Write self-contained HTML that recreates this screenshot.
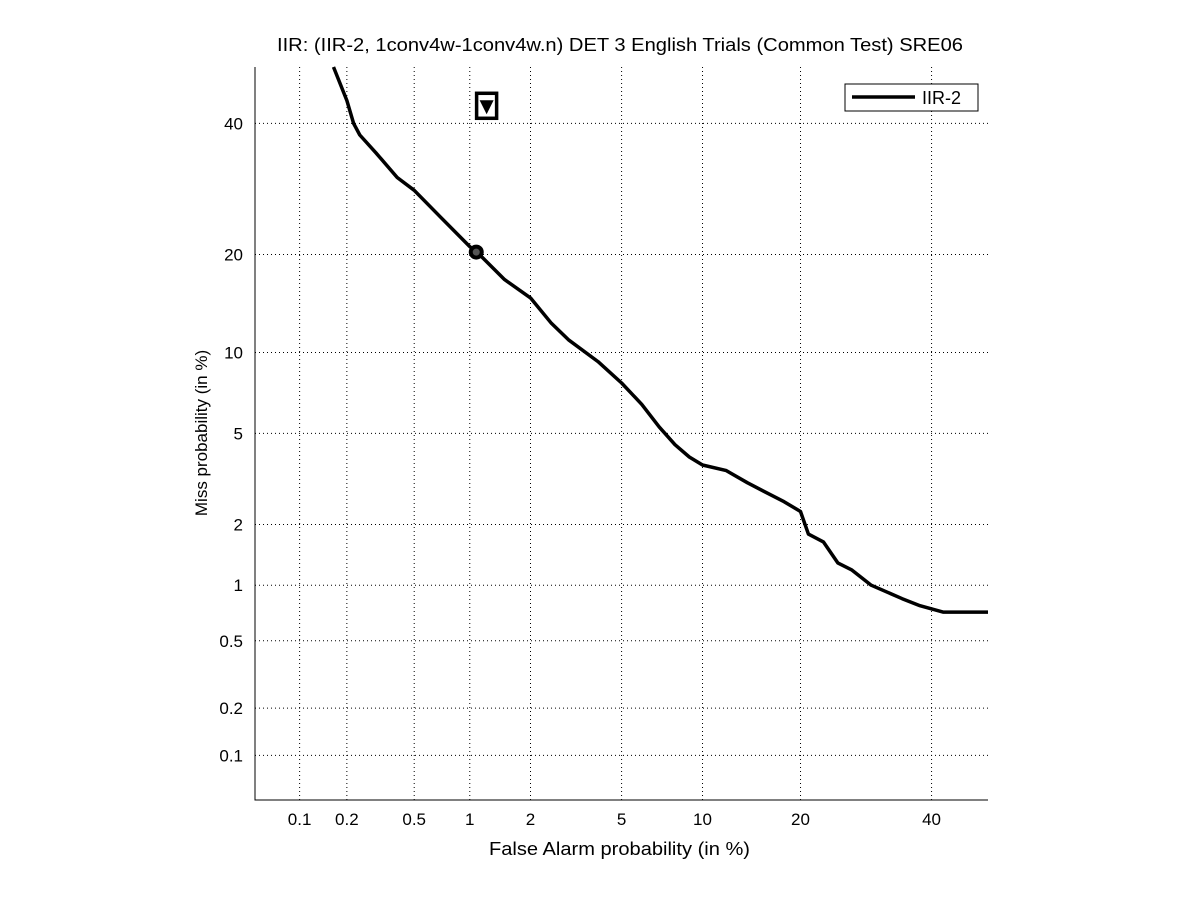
<!DOCTYPE html>
<html><head><meta charset="utf-8"><style>
body{margin:0;background:#fff;font-family:"Liberation Sans",sans-serif}
</style></head><body>
<svg id="c" width="1201" height="900" xmlns="http://www.w3.org/2000/svg"></svg>
<script>
const xTicks=[0.1,0.2,0.5,1,2,5,10,20,40];
const xTickLabels=["0.1","0.2","0.5","1","2","5","10","20","40"];
const yTicks=[0.1,0.2,0.5,1,2,5,10,20,40];
const yTickLabels=["0.1","0.2","0.5","1","2","5","10","20","40"];
const faValues=[0.165,0.2,0.22,0.24,0.3,0.4,0.5,0.7,1.0,1.1,1.5,2,2.5,3,4,5,6,7,8,9,10,12,14,16,18,20,21,23,25,27,30,35,38,42,50];
const missValues=[50,44,40,38,35,31,29,25,21,20.2,17,15,12.5,11,9.3,7.8,6.5,5.3,4.5,4.0,3.7,3.5,3.1,2.8,2.55,2.3,1.8,1.65,1.3,1.2,1.0,0.85,0.78,0.72,0.72];
const minDcfPoint=[1.08,20.3];
const actDcfPoint=[1.22,43];
const NS="http://www.w3.org/2000/svg";
const svg=document.getElementById('c');
function probit(p){
 const a=[-39.69683028665376,220.9460984245205,-275.9285104469687,138.357751867269,-30.66479806614716,2.506628277459239];
 const b=[-54.47609879822406,161.5858368580409,-155.6989798598866,66.80131188771972,-13.28068155288572];
 const c=[-0.007784894002430293,-0.3223964580411365,-2.400758277161838,-2.549732539343734,4.374664141464968,2.938163982698783];
 const d=[0.007784695709041462,0.3224671290700398,2.445134137142996,3.754408661907416];
 const pl=0.02425;let q,r;
 if(p<pl){q=Math.sqrt(-2*Math.log(p));return (((((c[0]*q+c[1])*q+c[2])*q+c[3])*q+c[4])*q+c[5])/((((d[0]*q+d[1])*q+d[2])*q+d[3])*q+1);}
 if(p>1-pl){q=Math.sqrt(-2*Math.log(1-p));return -(((((c[0]*q+c[1])*q+c[2])*q+c[3])*q+c[4])*q+c[5])/((((d[0]*q+d[1])*q+d[2])*q+d[3])*q+1);}
 q=p-0.5;r=q*q;return (((((a[0]*r+a[1])*r+a[2])*r+a[3])*r+a[4])*r+a[5])*q/(((((b[0]*r+b[1])*r+b[2])*r+b[3])*r+b[4])*r+1);
}
const L=255,R=988,T=67,B=800;
const pmin=probit(0.0005),pmax=probit(0.5);
function xs(v){return L+(probit(v/100)-pmin)/(pmax-pmin)*(R-L);}
function ys(v){return B-(probit(v/100)-pmin)/(pmax-pmin)*(B-T);}
function el(t,at,txt){const e=document.createElementNS(NS,t);for(const k in at)e.setAttribute(k,at[k]);if(txt!==undefined)e.textContent=txt;svg.appendChild(e);return e;}
let e;
e=el('rect',{x:L,y:T,width:R-L,height:B-T,fill:'#fff',stroke:'none'});


xTicks.forEach((t,i)=>{const x=xs(t);
 e=el('line',{x1:x,x2:x,y1:T,y2:B,stroke:'#000','stroke-width':1,'stroke-dasharray':'1,3'});
 
 
 e=el('text',{x:x,y:825,'text-anchor':'middle','font-size':17},xTickLabels[i]);
 
 
});
yTicks.forEach((t,i)=>{const y=ys(t);
 e=el('line',{x1:L,x2:R,y1:y,y2:y,stroke:'#000','stroke-width':1,'stroke-dasharray':'1,3'});
 
 
 e=el('text',{x:243,y:y+6,'text-anchor':'end','font-size':17},yTickLabels[i]);
 
 
});
e=el('polyline',{points:`${L},${T} ${L},${B} ${R},${B}`,fill:'none',stroke:'#000','stroke-width':1});


let pts=faValues.map((f,i)=>xs(f).toFixed(1)+','+ys(missValues[i]).toFixed(1)).join(' ');
e=el('polyline',{points:pts,fill:'none',stroke:'#000','stroke-width':3.5,'stroke-linejoin':'round'});


e=el('circle',{cx:xs(minDcfPoint[0]),cy:ys(minDcfPoint[1]),r:5.5,fill:'#555',stroke:'#000','stroke-width':4});


const ax=xs(actDcfPoint[0]),ay=ys(actDcfPoint[1]);
e=el('rect',{x:ax-10,y:ay-13,width:20,height:25,fill:'#fff',stroke:'#000','stroke-width':3.5});


e=el('polygon',{points:`${ax-7},${ay-6} ${ax+7},${ay-6} ${ax},${ay+8}`,fill:'#000'});


e=el('rect',{x:845,y:84,width:133,height:27,fill:'#fff',stroke:'#000','stroke-width':1});


e=el('line',{x1:852,x2:915,y1:97,y2:97,stroke:'#000','stroke-width':3.5});


e=el('text',{x:922,y:104,'font-size':18},'IIR-2');


e=el('text',{x:277,y:51,'font-size':18,textLength:686,lengthAdjust:'spacingAndGlyphs'},'IIR: (IIR-2, 1conv4w-1conv4w.n) DET 3 English Trials (Common Test) SRE06');


e=el('text',{x:489,y:855,'font-size':18,textLength:261,lengthAdjust:'spacingAndGlyphs'},'False Alarm probability (in %)');


e=el('text',{x:0,y:0,'text-anchor':'middle','font-size':17,transform:'translate(207,433) rotate(-90)'},'Miss probability (in %)');


</script>
</body></html>
